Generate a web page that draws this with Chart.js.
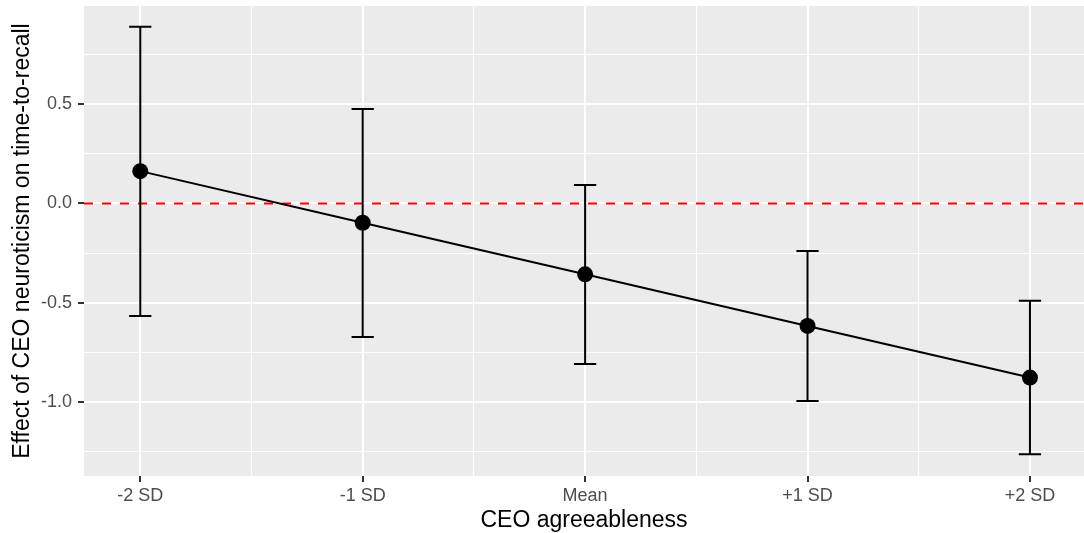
<!DOCTYPE html>
<html>
<head>
<meta charset="utf-8">
<script src="https://cdn.jsdelivr.net/npm/chart.js@4.4.0/dist/chart.umd.min.js"></script>
<style>
  html, body { margin: 0; padding: 0; background: #fff; }
  #wrap { width: 1084px; height: 533px; }
</style>
</head>
<body>
<div id="wrap"><canvas id="effectChart" width="1084" height="533"></canvas></div>
<script>
// 데이터
const categories = ['-2 SD', '-1 SD', 'Mean', '+1 SD', '+2 SD'];
const xPositions = [-2, -1, 0, 1, 2];
const effect = [0.163, -0.097, -0.357, -0.617, -0.877];
const lowerCI = [-0.567, -0.673, -0.809, -0.995, -1.264];
const upperCI = [0.891, 0.476, 0.093, -0.239, -0.490];
const xMinorTicks = [-1.5, -0.5, 0.5, 1.5];
const yMajorTicks = [-1.0, -0.5, 0.0, 0.5];
const yMinorTicks = [-1.25, -0.75, -0.25, 0.25, 0.75];
const referenceLine = 0;

const capHalfWidth = 0.05;

function isMajorX(v) { return xPositions.includes(v); }
function isMajorY(v) { return yMajorTicks.some(t => Math.abs(t - v) < 1e-9); }

// 패널 배경 + 기준선 + 오차 막대
const panelPlugin = {
    id: 'panel',
    beforeDraw(chart) {
        const { ctx, chartArea: a } = chart;
        ctx.save();
        ctx.fillStyle = '#EBEBEB';
        ctx.fillRect(a.left, a.top, a.right - a.left, a.bottom - a.top);
        ctx.restore();
    },
    beforeDatasetsDraw(chart) {
        const { ctx, chartArea: a, scales: { x, y } } = chart;
        ctx.save();
        const y0 = y.getPixelForValue(referenceLine);
        ctx.strokeStyle = '#FF0000';
        ctx.lineWidth = 2;
        ctx.setLineDash([9, 9]);
        ctx.beginPath();
        ctx.moveTo(a.left, y0);
        ctx.lineTo(a.right, y0);
        ctx.stroke();
        ctx.setLineDash([]);

        ctx.strokeStyle = '#000000';
        ctx.lineWidth = 2;
        xPositions.forEach(function(xv, i) {
            const px = x.getPixelForValue(xv);
            const l = x.getPixelForValue(xv - capHalfWidth);
            const r = x.getPixelForValue(xv + capHalfWidth);
            const top = y.getPixelForValue(upperCI[i]);
            const bot = y.getPixelForValue(lowerCI[i]);
            ctx.beginPath();
            ctx.moveTo(px, top); ctx.lineTo(px, bot);
            ctx.moveTo(l, top); ctx.lineTo(r, top);
            ctx.moveTo(l, bot); ctx.lineTo(r, bot);
            ctx.stroke();
        });
        ctx.restore();
    }
};

Chart.defaults.font.family = '"Liberation Sans", Arial, sans-serif';

document.addEventListener('DOMContentLoaded', function() {
    const ctx = document.getElementById('effectChart');
    new Chart(ctx.getContext('2d'), {
        type: 'line',
        data: {
            datasets: [{
                data: xPositions.map((xv, i) => ({ x: xv, y: effect[i] })),
                borderColor: '#000000',
                borderWidth: 2,
                pointRadius: 8,
                pointBorderWidth: 0,
                pointBackgroundColor: '#000000',
                fill: false,
                tension: 0
            }]
        },
        options: {
            responsive: false,
            animation: false,
            layout: { autoPadding: false, padding: { top: 6, right: 0, bottom: 0, left: 0 } },
            plugins: {
                legend: { display: false },
                tooltip: { enabled: false }
            },
            scales: {
                x: {
                    type: 'linear',
                    min: -2.253,
                    max: 2.243,
                    afterBuildTicks: function(scale) {
                        scale.ticks = xPositions.concat(xMinorTicks).sort((a, b) => a - b).map(v => ({ value: v }));
                    },
                    afterFit: function(scale) {
                        scale.height = 57;
                        scale.paddingLeft = 0;
                        scale.paddingRight = 0;
                    },
                    border: { display: false },
                    grid: {
                        color: '#FFFFFF',
                        lineWidth: c => (c.tick && isMajorX(c.tick.value)) ? 2 : 1,
                        tickColor: c => (c.tick && isMajorX(c.tick.value)) ? '#333333' : 'rgba(0,0,0,0)',
                        tickWidth: 2,
                        tickLength: 6
                    },
                    ticks: {
                        autoSkip: false,
                        maxRotation: 0,
                        padding: 3,
                        color: '#4D4D4D',
                        font: { size: 18 },
                        callback: function(value) {
                            const idx = xPositions.indexOf(value);
                            return idx >= 0 ? categories[idx] : '';
                        }
                    },
                    title: {
                        display: true,
                        text: 'CEO agreeableness',
                        color: '#000000',
                        font: { size: 23 },
                        padding: { top: 0, bottom: -1 }
                    }
                },
                y: {
                    type: 'linear',
                    min: -1.373,
                    max: 0.995,
                    afterBuildTicks: function(scale) {
                        scale.ticks = yMajorTicks.concat(yMinorTicks).sort((a, b) => a - b).map(v => ({ value: v }));
                    },
                    afterFit: function(scale) {
                        scale.width = 84;
                        scale.paddingTop = 0;
                        scale.paddingBottom = 0;
                    },
                    border: { display: false },
                    grid: {
                        color: '#FFFFFF',
                        lineWidth: c => (c.tick && isMajorY(c.tick.value)) ? 2 : 1,
                        tickColor: c => (c.tick && isMajorY(c.tick.value)) ? '#333333' : 'rgba(0,0,0,0)',
                        tickWidth: 2,
                        tickLength: 6
                    },
                    ticks: {
                        autoSkip: false,
                        padding: 6,
                        color: '#4D4D4D',
                        font: { size: 18 },
                        callback: function(value) {
                            return isMajorY(value) ? value.toFixed(1) : '';
                        }
                    },
                    title: {
                        display: true,
                        text: 'Effect of CEO neuroticism on time-to-recall',
                        color: '#000000',
                        font: { size: 23 },
                        padding: { top: 9, bottom: 0 }
                    }
                }
            }
        },
        plugins: [panelPlugin]
    });
});
</script>
</body>
</html>
